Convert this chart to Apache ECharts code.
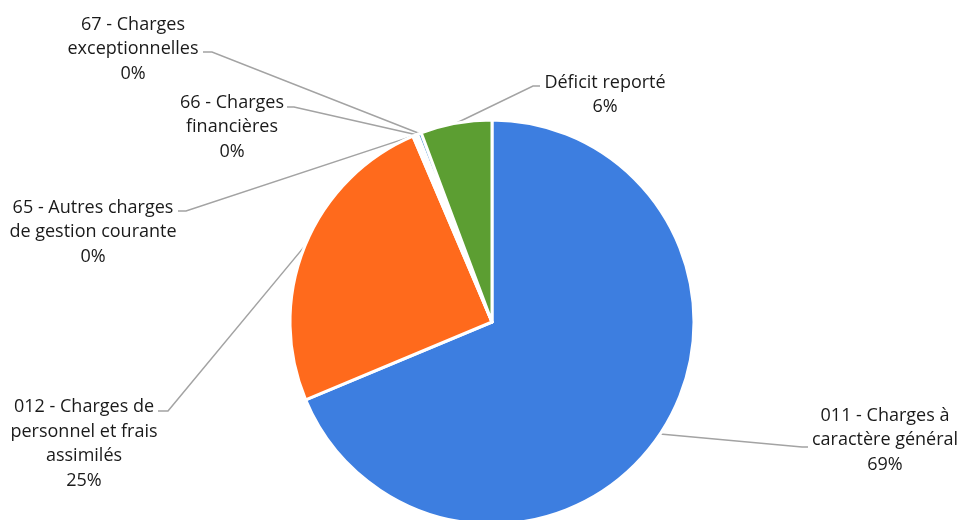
<!DOCTYPE html>
<html>
<head>
<meta charset="utf-8">
<script src="https://cdn.jsdelivr.net/npm/echarts@6/dist/echarts.min.js"></script>
<style>
  html, body { margin: 0; padding: 0; background: #fff; }
  #chart { width: 962px; height: 520px; }
</style>
</head>
<body>
<div id="chart"></div>
<script>
// categories (clockwise from 12 o'clock) and their shares
const categories = [
  '011 - Charges à\ncaractère général',
  '012 - Charges de\npersonnel et frais\nassimilés',
  '65 - Autres charges\nde gestion courante',
  '66 - Charges\nfinancières',
  '67 - Charges\nexceptionnelles',
  'Déficit reporté'
]
const values = [68.7, 24.9, 0.2, 0.2, 0.3, 5.7]
const colors = ['#3d7ee0', '#ff6a1c', '#a5a5a5', '#ffc000', '#5b9bd5', '#5c9e32']

// where each label sits (text centre) and where its leader line ends
const labelPos = [
  { x: 885, y: 440, end: [808, 447], elbow: [802, 447] },
  { x: 84, y: 444, end: [158, 411], elbow: [168, 411] },
  { x: 93, y: 232, end: [178, 211], elbow: [186, 211] },
  { x: 232, y: 127, end: [287, 107], elbow: [294, 107] },
  { x: 133, y: 49, end: [203, 52], elbow: [212, 52] },
  { x: 605, y: 95, end: [540, 86], elbow: [533, 86] }
]

const chart = echarts.init(document.getElementById('chart'))
chart.setOption({
  animation: false,
  backgroundColor: '#ffffff',
  series: [
    {
      type: 'pie',
      center: [492, 322],
      radius: 202,
      startAngle: 90,
      clockwise: true,
      avoidLabelOverlap: false,
      itemStyle: { borderColor: '#ffffff', borderWidth: 3 },
      data: categories.map((c, i) => ({
        name: c,
        value: values[i],
        itemStyle: { color: colors[i] }
      })),
      label: {
        show: true,
        formatter: p => p.name + '\n' + Math.round(p.percent) + '%',
        fontFamily: 'Open Sans',
        fontSize: 18,
        lineHeight: 24.5,
        color: '#1a1a1a',
        align: 'center'
      },
      labelLine: {
        show: true,
        length: 20,
        length2: 10,
        lineStyle: { color: '#a3a3a3', width: 1.5 }
      },
      labelLayout: params => {
        const lp = labelPos[params.dataIndex]
        const start = params.labelLinePoints ? params.labelLinePoints[0] : lp.elbow
        return {
          x: lp.x,
          y: lp.y,
          align: 'center',
          verticalAlign: 'middle',
          labelLinePoints: [start, lp.elbow, lp.end]
        }
      }
    }
  ]
})
</script>
</body>
</html>
